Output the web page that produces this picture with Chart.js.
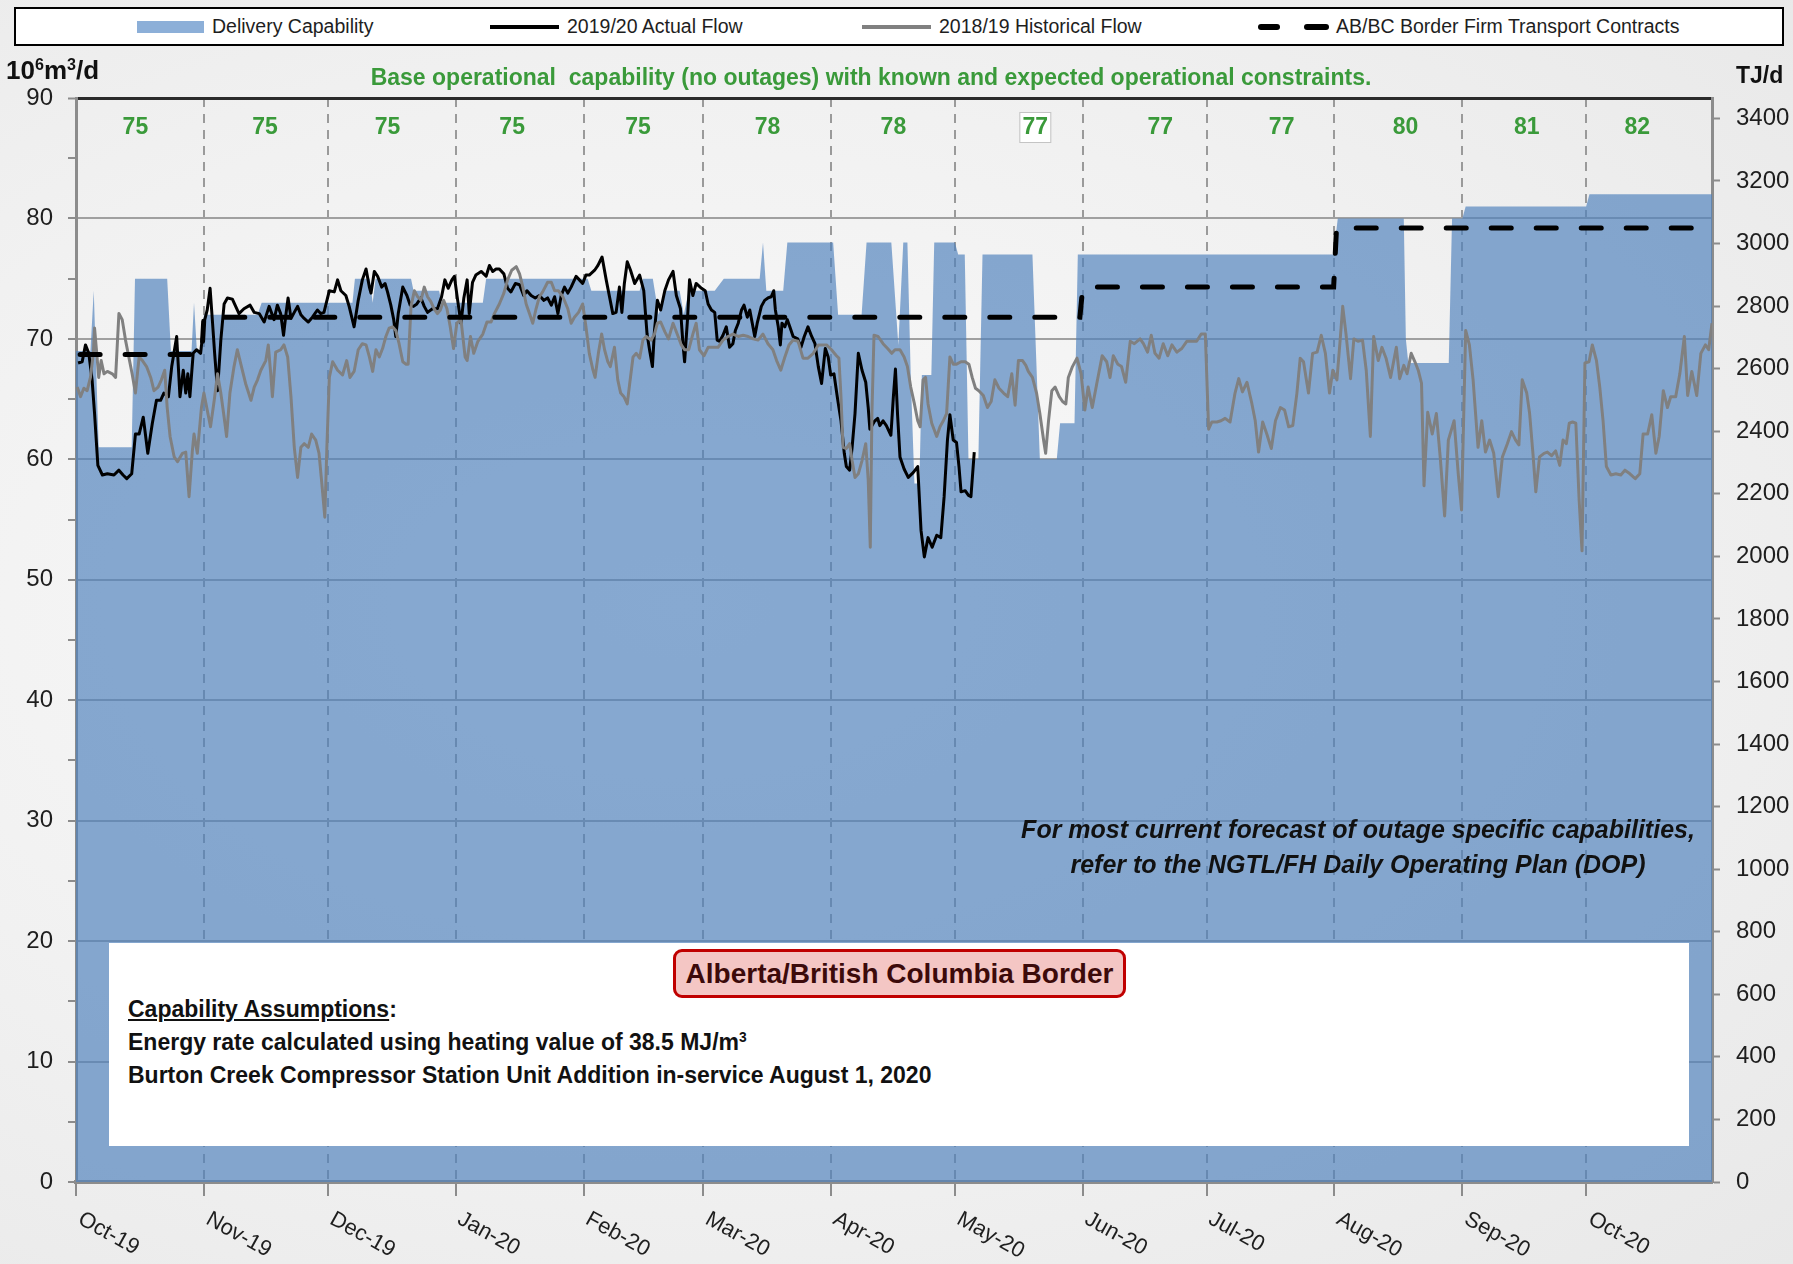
<!DOCTYPE html>
<html>
<head>
<meta charset="utf-8">
<script src="https://cdn.jsdelivr.net/npm/chart.js@4/dist/chart.umd.min.js"></script>
<style>
html,body{margin:0;padding:0;}
body{width:1793px;height:1264px;overflow:hidden;position:relative;
  font-family:'Liberation Sans',Arial,Helvetica,sans-serif;
  background:radial-gradient(ellipse at 38% 48%, #fafafa 0%, #f1f1f1 55%, #e8e8e8 100%);}
#chartWrap{position:absolute;left:0;top:0;width:1793px;height:1264px;}
canvas{display:block;}
.abs{position:absolute;white-space:nowrap;}
#legend{position:absolute;left:14px;top:7px;width:1770px;height:39px;box-sizing:border-box;border:2px solid #000;background:#fff;}
.lgText{position:absolute;top:0;line-height:35px;font-size:19.5px;color:#1e1e1e;}
#title{left:0;width:1742px;top:64px;text-align:center;font-weight:bold;font-size:23px;color:#3a9a3a;}
#yTitle{left:6px;top:55px;font-weight:bold;font-size:26px;color:#111;}
#yTitle sup{font-size:0.62em;vertical-align:0.55em;line-height:0;}
#y2Title{left:1736px;top:62px;font-weight:bold;font-size:23px;color:#111;}
#note{left:908px;width:900px;top:812px;text-align:center;font-weight:bold;font-style:italic;font-size:25px;line-height:35px;color:#111;}
#whiteBox{position:absolute;left:109px;top:943px;width:1580px;height:203px;background:#fff;}
#redBox{position:absolute;left:673px;top:949px;width:453px;height:49px;box-sizing:border-box;border:3px solid #c00000;border-radius:9px;background:#f4c6c4;
  text-align:center;line-height:43px;font-weight:bold;font-size:28px;color:#3c0a0a;}
.assume{left:128px;font-weight:bold;font-size:23px;color:#111;}
.assume sup{font-size:0.6em;vertical-align:0.6em;line-height:0;}
</style>
</head>
<body>
<div id="chartWrap"><canvas id="c" width="1793" height="1264"></canvas></div>

<div id="legend">
  <div style="position:absolute;left:121px;top:12px;width:67px;height:12px;background:#8cafd8;"></div>
  <div class="lgText" style="left:196px;">Delivery Capability</div>
  <div style="position:absolute;left:474px;top:16px;width:69px;height:4px;background:#000;"></div>
  <div class="lgText" style="left:551px;">2019/20 Actual Flow</div>
  <div style="position:absolute;left:846px;top:16px;width:69px;height:4px;background:#808080;"></div>
  <div class="lgText" style="left:923px;">2018/19 Historical Flow</div>
  <div style="position:absolute;left:1242px;top:15px;width:22px;height:6px;border-radius:3px;background:#000;"></div>
  <div style="position:absolute;left:1288px;top:15px;width:25px;height:6px;border-radius:3px;background:#000;"></div>
  <div class="lgText" style="left:1320px;">AB/BC Border Firm Transport Contracts</div>
</div>

<div id="title" class="abs">Base operational&nbsp; capability (no outages) with known and expected operational constraints.</div>
<div id="yTitle" class="abs">10<sup>6</sup>m<sup>3</sup>/d</div>
<div id="y2Title" class="abs">TJ/d</div>
<div id="note" class="abs">For most current forecast of outage specific capabilities,<br>refer to the NGTL/FH Daily Operating Plan (DOP)</div>

<div id="whiteBox"></div>
<div id="redBox">Alberta/British Columbia Border</div>
<div class="abs assume" style="top:996px;"><span style="text-decoration:underline;">Capability Assumptions</span>:</div>
<div class="abs assume" style="top:1029px;">Energy rate calculated using heating value of 38.5 MJ/m<sup>3</sup></div>
<div class="abs assume" style="top:1062px;">Burton Creek Compressor Station Unit Addition in-service August 1, 2020</div>

<script>
// ---------------- DATA ----------------
// x values are day offsets from 1 Oct 2019
const monthStarts = [0,31,61,92,123,152,183,213,244,274,305,336,366];
const monthNames = ['Oct-19','Nov-19','Dec-19','Jan-20','Feb-20','Mar-20','Apr-20','May-20','Jun-20','Jul-20','Aug-20','Sep-20','Oct-20'];
const baseCapability = [75,75,75,75,75,78,78,77,77,77,80,81,82];
const baseLabelAt = [14.4,45.8,75.5,105.7,136.2,167.6,198.1,232.5,262.8,292.2,322.2,351.6,378.4];

const capDays = [0,3.5,4.3,5.5,13.5,14.3,22.1,23,28,28.6,29.3,30.3,31,44,45,67,67.6,71.2,71.9,72.6,81.2,81.8,88,88.6,98.6,99.4,124,124.9,136.6,137.4,139.8,141.2,142.8,146.3,147.3,148.5,154.8,157,165.7,166.5,167.3,171.4,172.4,183.5,184.7,190.4,191.6,197.6,199.3,200.5,201.5,202.3,203.2,204.4,205,207.3,208,213,213.8,215.4,216.3,218.7,219.7,231.8,233.6,237.7,238.5,242,242.8,304.8,305.8,321.8,322.3,322.9,332.7,333.5,336,336.8,366,366.8,397];
const capVals = [69,69,74,61,61,75,75,69,69,73,69,69,72,72,73,73,75,75,73,75,75,74,74,73,73,75,75,74,74,75,75,72,74,74,72,74,74,75,75,78,74,74,78,78,72,72,78,78,69.5,78,78,67,58,58,67,67,78,78,77,77,60,60,77,77,60,60,63,63,77,77,80,80,70,68,68,80,80,81,81,82,82];

const actualDays = [0.5,1.5,2.3,3.1,3.9,4.5,5.3,6.4,7.6,9.2,10.4,11.4,12.3,13.5,14.4,15.3,16.3,17.4,18.5,19.5,20.5,21.3,22.4,23.2,24.4,25.2,26.0,26.6,27.1,27.6,28.4,29.2,30.2,31.0,31.8,32.5,33.1,33.6,34.3,35.1,35.9,36.7,37.9,38.7,39.5,40.7,42.2,43.2,44.4,45.6,46.8,48.0,48.8,49.6,50.3,50.9,51.4,52.1,52.9,53.7,54.5,55.3,56.3,57.3,58.5,
59.3,60.1,61.4,62.6,63.4,64.2,65.4,66.2,67.4,68.4,69.4,70.3,71.1,71.5,72.3,73.1,74.1,74.9,75.5,76.3,77.0,77.5,78.1,79.2,80.2,81.0,81.8,82.6,83.6,84.4,85.2,86.4,87.6,88.6,89.4,90.2,91.1,91.7,92.5,93.3,94.0,94.8,95.3,96.1,96.9,98.2,99.4,100.2,101.0,101.8,102.6,103.7,104.6,105.4,106.5,107.5,108.5,109.3,110.3,111.3,112.3,113.4,114.3,115.2,116.0,116.8,117.6,118.4,119.2,
120.0,121.2,122.0,122.8,123.6,124.4,125.7,126.5,127.5,128.5,129.3,130.1,130.9,131.7,132.3,132.9,133.6,134.4,135.4,136.6,137.6,138.4,139.0,139.7,140.2,140.9,141.7,142.7,143.6,144.7,145.5,146.5,147.1,147.5,148.2,148.7,149.5,150.3,151.6,152.5,153.2,154.0,154.8,155.4,156.0,156.8,157.6,158.4,159.2,159.8,160.5,161.3,161.9,162.7,163.3,163.9,164.5,165.1,166.1,166.9,167.7,168.5,169.1,169.5,170.2,170.7,171.1,171.8,172.4,173.0,173.8,174.9,175.7,176.5,177.4,178.3,179.1,179.9,180.7,
181.6,182.3,182.9,183.7,184.5,185.4,186.2,186.7,187.5,188.1,188.8,189.6,190.5,191.4,192.0,192.4,193.6,194.3,194.8,195.6,196.4,197.5,198.1,198.6,199.1,199.7,200.7,201.7,202.9,204.0,204.8,205.6,206.5,207.5,208.6,209.6,210.4,211.2,211.8,212.6,213.4,214.0,214.5,215.5,216.3,216.9,217.7];
const actualVals = [68.0,68.1,69.5,68.8,66.6,63.8,59.5,58.7,58.8,58.7,59.1,58.7,58.4,58.8,62.1,62.1,63.5,60.5,63.0,64.9,64.9,65.5,65.2,67.7,70.2,65.2,67.4,65.5,67.1,65.2,68.8,69.1,68.8,71.3,72.4,74.2,71.3,68.8,65.7,69.9,72.9,73.4,73.3,72.7,72.1,72.5,72.8,72.2,72.1,71.4,72.7,71.6,72.8,72.1,70.3,72.1,73.4,71.7,72.2,72.7,72.0,71.7,71.4,71.8,72.4,
72.1,72.2,74.0,73.9,74.9,74.0,73.6,72.7,71.0,73.2,74.9,75.8,74.3,73.8,75.6,75.2,74.3,74.6,73.9,72.8,71.6,70.2,72.1,74.3,73.6,72.8,72.7,72.9,73.4,72.7,72.2,72.5,72.5,73.5,74.9,74.2,74.9,75.2,73.2,71.3,73.4,74.9,72.1,74.7,75.3,75.6,75.2,76.1,75.6,75.8,75.8,75.4,74.2,73.9,74.6,74.5,73.6,74.0,73.6,73.4,73.6,73.2,73.4,72.8,73.5,72.1,73.6,74.3,73.8,
74.3,75.2,74.9,74.6,75.3,75.3,75.7,76.1,76.8,74.9,73.5,72.1,72.2,74.3,72.2,74.6,76.4,75.7,74.6,75.3,74.0,70.4,69.1,67.7,70.7,73.2,72.4,74.0,74.9,75.6,73.6,72.5,69.6,68.1,71.6,74.9,73.6,74.6,74.2,74.0,72.9,72.4,72.2,69.9,69.8,70.3,71.0,69.3,69.6,70.7,71.3,72.4,72.8,71.8,72.4,71.3,70.2,71.3,72.7,73.2,73.4,73.5,74.0,72.4,71.0,69.5,71.3,71.0,71.6,71.0,70.2,70.0,69.3,70.2,71.0,70.2,69.6,67.7,66.3,
69.2,68.5,67.0,67.1,65.2,63.2,60.5,59.4,59.1,61.0,63.8,68.8,67.4,66.4,64.3,62.5,63.2,63.4,62.8,63.2,62.8,62.0,65.2,67.5,63.8,60.2,59.2,58.5,58.9,59.4,54.1,51.9,53.5,52.7,53.7,53.5,56.9,61.6,63.7,61.6,61.4,59.4,57.3,57.4,57.0,56.9,60.6];

const histDays = [0.3,1.1,1.9,2.7,3.5,4.2,4.5,5.1,5.5,6.1,6.8,7.6,8.8,9.6,10.4,11.2,12.0,12.8,13.6,14.4,15.3,16.1,17.1,18.1,18.9,19.9,20.7,21.5,22.1,22.8,23.8,24.6,25.8,26.6,27.4,28.2,28.6,29.4,30.4,31.0,31.8,32.6,33.5,34.3,35.1,35.9,36.5,37.3,38.3,39.1,40.1,41.1,42.4,43.2,44.0,44.8,46.0,46.6,47.2,47.6,48.4,49.6,50.4,51.3,52.1,52.9,53.7,54.5,55.3,56.3,57.1,58.1,58.9,59.5,
60.3,60.8,61.4,62.2,63.4,64.6,65.6,66.4,67.4,68.4,69.4,70.3,71.1,71.9,72.7,73.5,74.3,75.1,75.9,76.7,77.5,78.3,79.2,80.0,80.5,81.2,82.0,82.8,83.6,84.4,85.2,86.0,86.8,87.6,88.3,89.1,89.9,90.7,91.5,92.3,93.3,94.3,94.8,95.6,96.4,97.4,98.6,99.6,100.6,101.4,102.6,103.7,104.6,105.6,106.7,107.5,108.3,109.1,109.9,110.7,111.5,112.3,113.1,114.3,115.2,116.0,116.9,118.0,119.2,
120.0,120.8,121.8,122.8,123.6,124.4,125.3,125.8,126.6,127.4,128.1,128.9,129.5,130.5,131.3,132.0,132.8,133.6,134.2,135.0,135.8,136.6,137.4,138.2,139.4,140.2,140.9,141.7,142.7,143.6,144.7,145.7,146.7,147.5,148.5,149.5,150.3,151.1,152.2,153.2,154.4,155.6,156.8,158.0,159.2,160.5,161.7,162.9,164.1,165.3,166.5,167.7,168.9,169.8,170.8,171.8,172.8,173.8,175.0,176.2,177.4,178.7,179.9,
181.9,183.1,184.3,184.9,185.4,185.9,186.7,187.5,188.1,188.8,189.6,190.5,191.4,192.0,192.5,192.9,193.4,194.4,195.6,196.7,197.7,198.5,199.7,200.7,201.5,202.3,203.2,204.0,204.6,205.3,205.9,206.5,207.4,208.6,209.4,210.2,211.0,211.8,212.6,213.4,214.5,215.5,216.4,217.2,218.0,218.8,219.9,220.9,221.8,222.7,223.7,224.8,225.8,226.8,227.6,228.4,229.4,230.2,230.8,231.8,232.8,233.6,234.5,235.0,235.7,236.5,237.3,238.3,239.1,239.9,240.5,241.5,242.6,
243.6,244.5,245.3,246.3,247.4,248.7,249.8,250.6,251.4,252.5,253.4,254.4,255.5,256.5,257.9,258.7,259.7,260.6,261.5,262.5,263.5,264.6,265.6,266.8,268.0,269.2,270.4,271.6,272.7,273.7,274.5,275.3,276.5,277.5,278.5,279.7,280.9,281.8,282.7,283.8,285.0,285.8,286.6,287.6,288.6,289.7,290.7,291.9,292.9,293.9,294.9,295.9,296.7,297.5,298.7,299.7,300.8,301.8,302.8,303.8,304.6,305.6,306.4,307.0,307.8,308.9,309.7,310.7,311.8,312.7,313.7,314.5,315.6,316.5,317.5,318.6,
320.0,320.8,321.8,322.6,323.6,324.5,325.3,326.1,326.7,327.6,328.7,329.7,330.7,331.7,332.6,334.0,335.0,335.8,336.8,337.7,338.6,339.2,339.8,340.7,341.6,342.6,343.6,344.7,345.7,346.9,347.9,348.9,349.7,350.5,351.6,352.3,353.1,353.8,354.7,355.8,356.6,357.6,358.6,359.6,360.4,361.2,361.9,362.7,363.5,364.3,365.0,365.7,366.7,367.5,368.5,369.3,370.1,370.9,372.0,373.2,374.4,375.4,376.6,377.9,379.0,379.8,380.9,381.9,382.9,383.7,384.7,385.7,386.5,387.7,388.7,389.8,390.6,391.6,392.8,393.8,394.9,395.7,396.5,397];
const histVals = [66.0,65.2,65.9,65.7,66.8,68.8,70.9,68.5,66.8,68.2,67.1,67.3,67.1,66.8,72.1,71.6,69.9,68.5,67.1,65.5,68.5,68.2,67.7,66.8,65.7,66.0,66.6,67.4,64.3,61.9,60.2,59.8,60.5,60.6,56.9,60.7,62.1,60.5,64.3,65.5,64.1,62.7,64.9,67.1,65.5,63.5,61.9,65.5,67.7,69.1,67.7,66.3,64.9,66.0,66.6,67.4,68.2,69.5,67.1,65.2,68.9,69.1,69.5,68.5,65.2,61.0,58.5,61.0,61.3,61.0,62.1,61.6,60.5,58.3,
55.2,61.0,66.8,68.1,67.4,67.0,68.2,66.8,67.3,69.1,69.6,69.5,68.5,67.3,69.1,68.5,69.2,70.2,70.9,71.0,70.7,69.6,68.1,67.9,67.9,72.7,74.0,73.5,73.2,74.3,73.5,73.1,72.5,72.1,72.4,73.2,72.5,71.0,69.2,71.3,71.6,68.5,68.2,70.2,68.8,69.8,70.4,71.4,71.4,72.1,72.9,73.8,74.9,75.7,76.0,75.4,74.3,72.9,72.1,71.3,72.5,73.5,73.9,74.7,74.7,74.0,74.0,73.5,72.5,
71.3,71.8,72.2,72.9,71.0,68.8,67.4,66.8,68.8,70.4,69.1,68.1,67.7,69.3,66.6,65.5,65.2,64.6,66.3,68.5,68.8,68.4,69.9,70.2,69.9,70.4,71.3,71.4,70.6,70.0,71.3,70.4,69.5,69.1,69.1,70.4,71.3,69.1,68.6,69.3,69.3,69.3,69.9,70.2,70.4,70.2,70.3,70.2,70.0,69.9,70.4,69.6,69.1,68.2,67.4,68.5,69.5,69.9,69.8,68.4,68.4,68.8,69.5,
69.5,69.1,68.6,68.4,65.2,61.0,60.9,61.3,59.9,58.5,58.8,59.9,61.3,58.3,52.7,63.8,70.3,70.2,69.6,69.2,68.8,69.1,69.1,68.5,67.7,66.0,64.6,63.2,62.7,66.6,66.8,64.6,63.0,61.9,62.7,63.2,63.8,68.5,67.9,67.9,68.1,68.1,67.9,66.8,65.9,65.7,65.3,64.3,64.8,66.6,65.9,65.5,65.2,67.1,64.5,68.2,68.2,67.8,67.3,66.8,65.5,63.8,61.6,60.5,63.2,65.7,66.0,65.2,64.8,64.6,66.8,67.7,68.4,
67.1,64.1,66.0,64.3,66.3,68.6,68.1,66.8,68.6,67.9,67.7,66.4,69.8,69.6,70.0,69.6,68.9,70.3,68.8,68.4,69.6,68.6,69.5,68.9,69.2,69.8,69.8,69.8,70.4,70.4,62.5,63.1,63.1,63.2,63.4,63.1,65.5,66.7,65.6,66.4,64.6,63.2,60.6,63.1,62.1,60.9,63.2,64.3,64.1,62.7,62.8,65.5,68.4,68.1,65.5,68.8,68.9,70.3,68.8,65.5,67.4,66.6,70.0,72.7,70.4,66.7,70.0,69.8,69.9,67.4,61.9,70.2,68.2,69.3,68.4,66.8,
69.3,66.7,67.8,67.1,68.8,68.1,67.4,66.3,57.8,63.9,62.1,63.8,59.9,55.3,61.6,63.2,58.8,55.8,70.7,69.5,66.6,63.8,61.0,63.2,60.6,61.6,60.5,56.9,60.2,61.3,62.3,61.6,61.2,66.6,65.5,63.8,60.5,57.3,60.2,60.5,60.6,60.3,60.7,59.5,61.6,61.3,63.0,63.1,63.0,56.6,52.4,68.0,68.1,69.5,68.2,66.0,63.2,59.4,58.7,58.8,58.7,59.1,58.8,58.4,58.8,62.1,62.1,63.7,60.5,61.9,65.7,64.3,65.2,65.2,67.1,70.2,65.3,67.3,65.3,68.8,69.5,69.1,71.3,71.6];

const contractDays = [1,30.5,31,243.3,244,304.8,305.5,396];
const contractVals = [68.7,68.7,71.8,71.8,74.3,74.3,79.2,79.2];

const TJ_PER_E6M3 = 38.5;

// ---------------- CHART ----------------
const FONT = "'Liberation Sans', Arial, Helvetica, sans-serif";
Chart.defaults.font.family = FONT;
const pts = (xs, ys) => xs.map((x, i) => ({x: x, y: ys[i]}));

const overlayPlugin = {
  id: 'overlayText',
  afterDraw(chart) {
    const ctx = chart.ctx, xs = chart.scales.x, area = chart.chartArea;
    ctx.save();
    ctx.font = 'bold 23px ' + FONT;
    ctx.textAlign = 'center';
    ctx.textBaseline = 'middle';
    baseCapability.forEach((v, i) => {
      const px = xs.getPixelForValue(baseLabelAt[i]);
      if (i === 7) {
        ctx.fillStyle = '#ffffff';
        ctx.fillRect(px - 15, 113, 30, 29);
        ctx.strokeStyle = '#c4c4c4';
        ctx.lineWidth = 1;
        ctx.strokeRect(px - 15.5, 112.5, 31, 30);
      }
      ctx.fillStyle = '#3a9a3a';
      ctx.fillText(String(v), px, 128);
    });
    ctx.font = '22px ' + FONT;
    ctx.fillStyle = '#1e1e1e';
    ctx.textAlign = 'left';
    ctx.textBaseline = 'top';
    monthStarts.forEach((d, i) => {
      const px = xs.getPixelForValue(d);
      ctx.save();
      ctx.translate(px + 9, area.bottom + 26);
      ctx.rotate(29 * Math.PI / 180);
      ctx.fillText(monthNames[i], 0, 0);
      ctx.restore();
    });
    ctx.restore();
  }
};

new Chart(document.getElementById('c').getContext('2d'), {
  type: 'line',
  data: {
    datasets: [
      { label: 'AB/BC Border Firm Transport Contracts', data: pts(contractDays, contractVals),
        borderColor: '#000', borderWidth: 5, borderDash: [20, 25], borderCapStyle: 'round',
        pointRadius: 0, fill: false, order: 0, yAxisID: 'y' },
      { label: '2018/19 Historical Flow', data: pts(histDays, histVals),
        borderColor: '#808080', borderWidth: 3, borderJoinStyle: 'round',
        pointRadius: 0, fill: false, order: 1, yAxisID: 'y' },
      { label: '2019/20 Actual Flow', data: pts(actualDays, actualVals),
        borderColor: '#000', borderWidth: 3, borderJoinStyle: 'round',
        pointRadius: 0, fill: false, order: 2, yAxisID: 'y' },
      { label: 'Delivery Capability', data: pts(capDays, capVals),
        borderWidth: 0, borderColor: 'rgba(0,0,0,0)', backgroundColor: 'rgba(79,129,189,0.68)',
        pointRadius: 0, fill: 'origin', order: 3, yAxisID: 'y' }
    ]
  },
  options: {
    responsive: false,
    animation: false,
    devicePixelRatio: 1,
    layout: { padding: { top: 98, left: 0, right: 0, bottom: 0 } },
    plugins: { legend: { display: false }, tooltip: { enabled: false } },
    elements: { line: { tension: 0 }, point: { radius: 0 } },
    scales: {
      x: {
        type: 'linear', min: 0, max: 396.5,
        afterBuildTicks: s => { s.ticks = monthStarts.map(v => ({ value: v })); },
        afterFit: s => { s.height = 82; },
        ticks: { display: false },
        grid: {
          color: c => (c.tick && c.tick.value === 0) ? 'rgba(0,0,0,0)' : '#9a9a9a',
          lineWidth: 2, tickLength: 14, tickColor: '#8c8c8c', tickWidth: 2
        },
        border: { color: '#8c8c8c', width: 4, dash: [9, 7] }
      },
      y: {
        position: 'left', min: 0, max: 90,
        afterBuildTicks: s => { const t = []; for (let v = 0; v <= 90; v += 5) t.push({ value: v }); s.ticks = t; },
        afterFit: s => { s.width = 76; },
        ticks: { autoSkip: false, padding: 15, color: '#1e1e1e', font: { size: 24 },
                 callback: v => (v % 10 === 0 ? String(v) : '') },
        grid: {
          color: c => { const v = c.tick ? c.tick.value : 0; if (v % 10 !== 0) return 'rgba(0,0,0,0)'; return v === 90 ? '#2b2b2b' : '#a0a0a0'; },
          lineWidth: c => (c.tick && c.tick.value === 90) ? 3 : 2,
          tickLength: 8, tickColor: '#8c8c8c', tickWidth: 2
        },
        border: { color: '#8c8c8c', width: 3 }
      },
      y2: {
        position: 'right', min: 0, max: 90 * TJ_PER_E6M3,
        afterBuildTicks: s => { const t = []; for (let v = 0; v <= 3400; v += 200) t.push({ value: v }); s.ticks = t; },
        afterFit: s => { s.width = 81; },
        ticks: { autoSkip: false, padding: 16, color: '#1e1e1e', font: { size: 24 }, callback: v => String(v) },
        grid: { drawOnChartArea: false, tickLength: 8, tickColor: '#8c8c8c', tickWidth: 2 },
        border: { color: '#8c8c8c', width: 3 }
      }
    }
  },
  plugins: [overlayPlugin]
});
</script>
</body>
</html>
